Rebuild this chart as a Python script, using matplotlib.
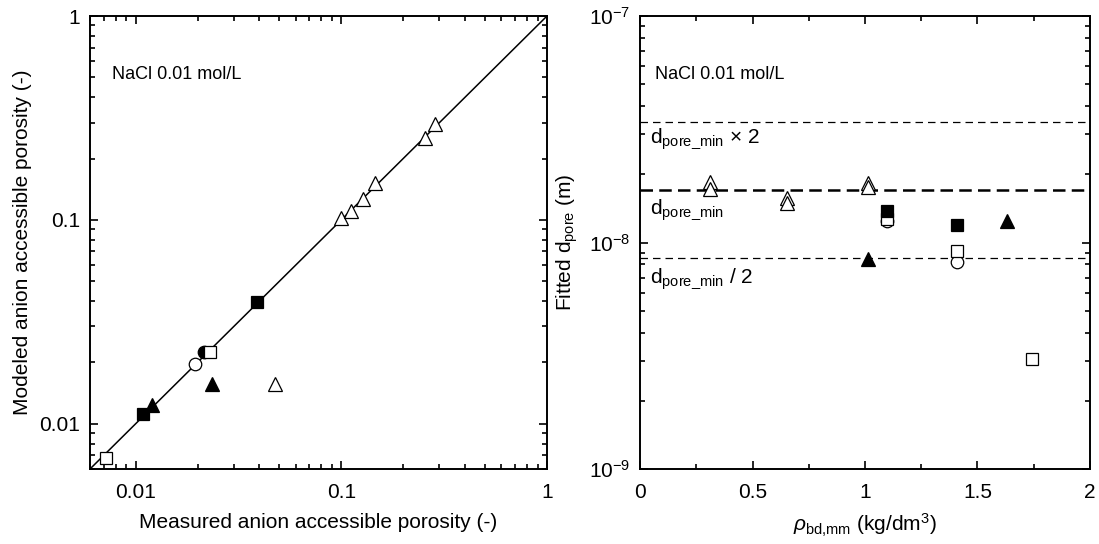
import numpy as np
import matplotlib
matplotlib.use("Agg")
import matplotlib.pyplot as plt
from matplotlib.ticker import LogLocator, FixedLocator, NullFormatter, MultipleLocator

# fuente parecida a Arial
plt.rcParams['font.family'] = ['Liberation Sans', 'DejaVu Sans']
plt.rcParams['mathtext.fontset'] = 'custom'
plt.rcParams['mathtext.rm'] = 'Liberation Sans'
plt.rcParams['mathtext.it'] = 'Liberation Sans:italic'
plt.rcParams['mathtext.default'] = 'regular'
plt.rcParams['font.size'] = 15


# Panel izquierdo: porosidad medida vs modelada
sq_lleno_med = [0.0108, 0.039]
sq_lleno_mod = [0.0112, 0.0395]
sq_vacio_med = [0.0072, 0.0231]
sq_vacio_mod = [0.0068, 0.0225]
circ_vacio_med = [0.0195]
circ_vacio_mod = [0.0197]
circ_lleno_med = [0.0216]
circ_lleno_mod = [0.0225]
tri_lleno_med = [0.012, 0.0236]
tri_lleno_mod = [0.0124, 0.0156]
tri_vacio_med = [0.1, 0.111, 0.128, 0.146, 0.255, 0.284, 0.0475]
tri_vacio_mod = [0.102, 0.111, 0.126, 0.151, 0.252, 0.294, 0.0156]

linea_11 = [0.006, 1]

# Panel derecho: diametro de poro ajustado vs densidad
tri_vacio_rho = [0.311, 0.311, 0.653, 0.653, 1.013, 1.013]
tri_vacio_d = [1.85e-8, 1.72e-8, 1.57e-8, 1.49e-8, 1.83e-8, 1.76e-8]
sq_lleno_rho = [1.098, 1.409]
sq_lleno_d = [1.38e-8, 1.19e-8]
sq_vacio_rho = [1.098, 1.409, 1.742]
sq_vacio_d = [1.27e-8, 9.17e-9, 3.06e-9]
circ_vacio_rho = [1.098, 1.409]
circ_vacio_d = [1.24e-8, 8.2e-9]
tri_lleno_rho = [1.013, 1.631]
tri_lleno_d = [8.45e-9, 1.24e-8]

d_pore_min = 1.7e-8

y2_ticks = [1e-9, 1e-8, 1e-7]
y2_labels = [r'10$^{\mathregular{-9}}$', r'10$^{\mathregular{-8}}$', r'10$^{\mathregular{-7}}$']


fig = plt.figure(figsize=(10.99, 5.44), dpi=100)
ax1 = fig.add_axes([90/1099, 1 - 469/544, 457/1099, 453/544])
ax2 = fig.add_axes([640/1099, 1 - 469/544, 450/1099, 453/544])

ms = 9
mew = 0.9


def estilo_ejes(ax):
    for s in ax.spines.values():
        s.set_linewidth(1.4)
    ax.tick_params(which='both', direction='in', top=True, right=True, width=1.2)
    ax.tick_params(which='major', length=6, pad=7, labelsize=15)
    ax.tick_params(which='minor', length=3.5)
    ax.tick_params(axis='x', which='major', pad=10)


#Panel izquierdo
ax1.plot(linea_11, linea_11, color='black', lw=1.1, zorder=1)
ax1.plot(circ_lleno_med, circ_lleno_mod, 'o', ms=ms, mfc='black', mec='black', mew=mew, ls='none')
ax1.plot(circ_vacio_med, circ_vacio_mod, 'o', ms=ms, mfc='white', mec='black', mew=mew, ls='none')
ax1.plot(sq_vacio_med, sq_vacio_mod, 's', ms=ms, mfc='white', mec='black', mew=mew, ls='none')
ax1.plot(sq_lleno_med, sq_lleno_mod, 's', ms=ms, mfc='black', mec='black', mew=mew, ls='none')
ax1.plot(tri_lleno_med, tri_lleno_mod, '^', ms=ms + 1.5, mfc='black', mec='black', mew=mew, ls='none')
ax1.plot(tri_vacio_med, tri_vacio_mod, '^', ms=ms + 1.5, mfc='white', mec='black', mew=mew, ls='none')

ax1.set_xscale('log')
ax1.set_yscale('log')
ax1.set_xlim(0.006, 1)
ax1.set_ylim(0.006, 1)
ax1.set_xticks([0.01, 0.1, 1])
ax1.set_xticklabels(['0.01', '0.1', '1'])
ax1.set_yticks([0.01, 0.1, 1])
ax1.set_yticklabels(['0.01', '0.1', '1'])
ax1.xaxis.set_minor_locator(LogLocator(base=10, subs=np.arange(2, 10)))
ax1.yaxis.set_minor_locator(LogLocator(base=10, subs=np.arange(2, 10)))
ax1.xaxis.set_minor_formatter(NullFormatter())
ax1.yaxis.set_minor_formatter(NullFormatter())
estilo_ejes(ax1)
ax1.set_xlabel('Measured anion accessible porosity (-)', labelpad=8)
ax1.set_ylabel('Modeled anion accessible porosity (-)', labelpad=5)
ax1.text(0.048, 0.87, 'NaCl 0.01 mol/L', transform=ax1.transAxes, va='center', ha='left', fontsize=13)


#Panel derecho
ax2.axhline(d_pore_min * 2, color='black', lw=0.9, ls=(0, (6, 4)), zorder=1)
ax2.axhline(d_pore_min, color='black', lw=1.8, ls=(0, (5, 2.5)), zorder=1)
ax2.axhline(d_pore_min / 2, color='black', lw=0.9, ls=(0, (6, 4)), zorder=1)

ax2.plot(circ_vacio_rho, circ_vacio_d, 'o', ms=ms, mfc='white', mec='black', mew=mew, ls='none')
ax2.plot(sq_vacio_rho, sq_vacio_d, 's', ms=ms, mfc='white', mec='black', mew=mew, ls='none')
ax2.plot(sq_lleno_rho, sq_lleno_d, 's', ms=ms, mfc='black', mec='black', mew=mew, ls='none')
ax2.plot(tri_lleno_rho, tri_lleno_d, '^', ms=ms + 1.5, mfc='black', mec='black', mew=mew, ls='none')
ax2.plot(tri_vacio_rho, tri_vacio_d, '^', ms=ms + 1.5, mfc='white', mec='black', mew=mew, ls='none')

ax2.set_yscale('log')
ax2.set_xlim(0, 2)
ax2.set_ylim(1e-9, 1e-7)
ax2.xaxis.set_major_locator(FixedLocator([0, 0.5, 1, 1.5, 2]))
ax2.set_xticklabels(['0', '0.5', '1', '1.5', '2'])
ax2.xaxis.set_minor_locator(MultipleLocator(0.25))
ax2.set_yticks(y2_ticks)
ax2.set_yticklabels(y2_labels)
ax2.yaxis.set_minor_locator(LogLocator(base=10, subs=np.arange(2, 10)))
ax2.yaxis.set_minor_formatter(NullFormatter())
estilo_ejes(ax2)
ax2.set_xlabel(r'$\mathit{\rho}_{\mathregular{bd{,}mm}}$ (kg/dm$^{3}$)', labelpad=7)
ax2.set_ylabel(r'Fitted d$_{\mathregular{pore}}$ (m)', labelpad=6)
ax2.text(0.033, 0.87, 'NaCl 0.01 mol/L', transform=ax2.transAxes, va='center', ha='left', fontsize=13)
ax2.text(0.022, 0.73, r'd$_{\mathregular{pore\_min}}$ × 2', transform=ax2.transAxes, va='center', ha='left')
ax2.text(0.022, 0.572, r'd$_{\mathregular{pore\_min}}$', transform=ax2.transAxes, va='center', ha='left')
ax2.text(0.022, 0.42, r'd$_{\mathregular{pore\_min}}$ / 2', transform=ax2.transAxes, va='center', ha='left')

fig.savefig('out.png', dpi=100)
